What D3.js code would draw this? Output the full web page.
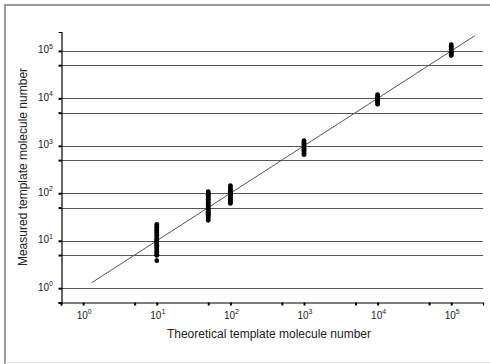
<!DOCTYPE html>
<html>
<head>
<meta charset="utf-8">
<script src="https://cdn.jsdelivr.net/npm/d3@7"></script>
<style>
  body { margin: 0; background: #fff; }
  svg { display: block; font-family: "Liberation Sans", Arial, sans-serif; }
</style>
</head>
<body>
<svg id="chart" width="490" height="364"></svg>
<script>
// theoretical template numbers (x) and the measured replicates at each
const theoretical = [10, 50, 100, 1000, 10000, 100000];
const measured = [
  [22, 20, 18.5, 17, 16, 15, 14, 13, 12, 11, 10.5, 10, 9.5, 9, 8.5, 8, 7.5, 7, 6.5, 6, 5.6, 5.2, 4.9, 3.8],
  [108, 100, 95, 90, 85, 80, 75, 70, 65, 60, 56, 52, 48, 45, 42, 40, 38, 36, 34, 32, 30, 27],
  [145, 135, 125, 118, 110, 105, 100, 95, 90, 85, 80, 75, 70, 65, 61],
  [1280, 1200, 1130, 1060, 1000, 950, 900, 850, 800, 750, 700, 650],
  [12000, 11200, 10500, 10000, 9500, 9000, 8500, 8000, 7500],
  [135000, 125000, 115000, 108000, 100000, 95000, 90000, 85000, 80000]
];
// y = x reference line end points
const fitLine = [1.3, 210000];
const majorTicks = [1, 10, 100, 1000, 10000, 100000];
const minorTicks = [0.5, 5, 50, 500, 5000, 50000];
const gridValues = [1, 5, 10, 50, 100, 500, 1000, 5000, 10000, 50000, 100000];
const xTitle = "Theoretical template molecule number";
const yTitle = "Measured template molecule number";

const svg = d3.select("#chart");

// frame round the figure
svg.append("path")
  .attr("d", "M5,364 V5 H490")
  .attr("fill", "none")
  .attr("stroke", "#999")
  .attr("stroke-width", 2);
svg.append("line")
  .attr("x1", 5).attr("x2", 490).attr("y1", 362.5).attr("y2", 362.5)
  .attr("stroke", "#e4e4e4");

const x = d3.scaleLog().domain([0.5, 270000]).range([61, 483]);
const y = d3.scaleLog().domain([0.5, 250000]).range([302.5, 32]);

// horizontal grid lines
svg.append("g")
  .selectAll("line")
  .data(gridValues)
  .join("line")
    .attr("x1", 61).attr("x2", 483)
    .attr("y1", d => Math.round(y(d)) + 0.5)
    .attr("y2", d => Math.round(y(d)) + 0.5)
    .attr("stroke", "#555")
    .attr("stroke-width", 1);

// axes, ticks only; labels are written below
const gx = svg.append("g")
  .attr("transform", "translate(0,302.5)")
  .call(d3.axisBottom(x).tickValues(majorTicks.concat(minorTicks)).tickSize(3).tickFormat(""));
const gy = svg.append("g")
  .attr("transform", "translate(61.5,0)")
  .call(d3.axisLeft(y).tickValues(majorTicks.concat(minorTicks)).tickSize(3).tickFormat(""));

[gx, gy].forEach(g => {
  g.select(".domain").attr("stroke", "#000").attr("stroke-width", 1.2);
  g.selectAll(".tick line").attr("stroke", "#000").attr("stroke-width", 2);
});

// power-of-ten labels
function powLabel(sel, v) {
  const e = Math.round(Math.log10(v));
  sel.append("tspan").text("10");
  sel.append("tspan").attr("dy", -4.5).attr("font-size", 7).text(e);
}

svg.append("g")
  .selectAll("text")
  .data(majorTicks)
  .join("text")
    .attr("x", d => x(d) + 1)
    .attr("y", 318.5)
    .attr("text-anchor", "middle")
    .attr("font-size", 10)
    .attr("fill", "#222")
    .each(function(d) { powLabel(d3.select(this), d); });

svg.append("g")
  .selectAll("text")
  .data(majorTicks)
  .join("text")
    .attr("x", 53)
    .attr("y", d => y(d) + 2.5)
    .attr("text-anchor", "end")
    .attr("font-size", 10)
    .attr("fill", "#222")
    .each(function(d) { powLabel(d3.select(this), d); });

// axis titles
svg.append("text")
  .attr("x", 269).attr("y", 338)
  .attr("text-anchor", "middle")
  .attr("font-size", 12)
  .attr("fill", "#222")
  .text(xTitle);
svg.append("text")
  .attr("transform", "translate(27,167) rotate(-90)")
  .attr("text-anchor", "middle")
  .attr("font-size", 12)
  .attr("fill", "#222")
  .text(yTitle);

// y = x line
svg.append("line")
  .attr("x1", x(fitLine[0])).attr("y1", y(fitLine[0]))
  .attr("x2", x(fitLine[1])).attr("y2", y(fitLine[1]))
  .attr("stroke", "#555")
  .attr("stroke-width", 1);

// measured points
const points = theoretical.flatMap((t, i) => measured[i].map(m => ({ t, m })));
svg.append("g")
  .selectAll("circle")
  .data(points)
  .join("circle")
    .attr("cx", d => x(d.t))
    .attr("cy", d => y(d.m))
    .attr("r", 2.4)
    .attr("fill", "#000");
</script>
</body>
</html>
